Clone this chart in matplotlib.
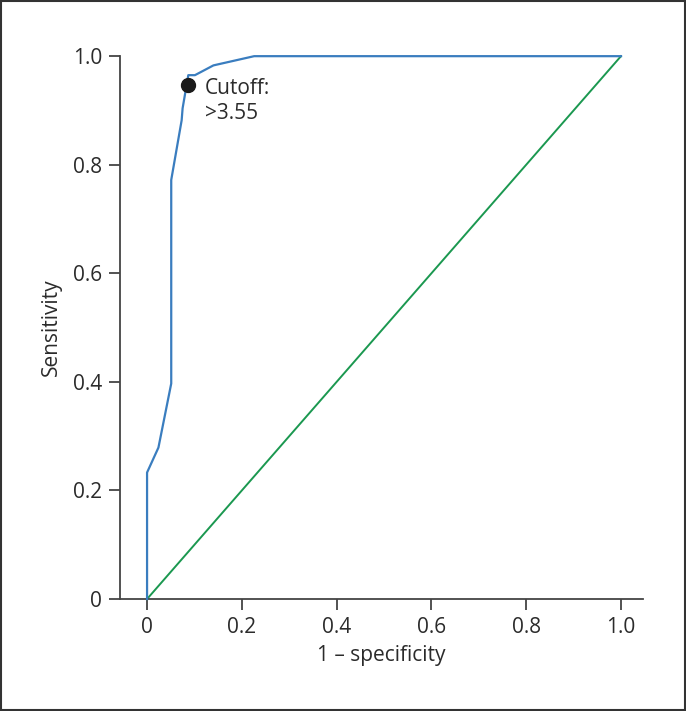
import matplotlib.pyplot as plt
from matplotlib.patches import Rectangle

plt.rcParams['font.family'] = ['Open Sans', 'DejaVu Sans']

# ROC curve
fpr = [0, 0, 0.024, 0.051, 0.051, 0.073, 0.075, 0.087, 0.101, 0.14, 0.226, 1.0]
tpr = [0, 0.233, 0.279, 0.397, 0.772, 0.882, 0.904, 0.965, 0.965, 0.983, 1.0, 1.0]
ref_x = [0, 1]
ref_y = [0, 1]
cutoff_x = 0.087
cutoff_y = 0.947
cutoff_label = 'Cutoff:\n>3.55'

ticks = [0, 0.2, 0.4, 0.6, 0.8, 1.0]
tick_labels = ['0', '0.2', '0.4', '0.6', '0.8', '1.0']

text_col = '#2b2b2b'
axis_col = '#444444'
fs = 15

fig = plt.figure(figsize=(6.86, 7.11), dpi=100)
ax = fig.add_axes([0.175, 0.1575, 0.762, 0.7635])

ax.plot(ref_x, ref_y, color='#1b9850', lw=1.4, clip_on=False, zorder=2)
ax.plot(fpr, tpr, color='#3a7dbf', lw=1.6, clip_on=False, zorder=3)
ax.plot(cutoff_x, cutoff_y, 'o', color='#1a1a1a', ms=10, clip_on=False, zorder=4)
ax.text(0.122, 0.918, cutoff_label, fontsize=fs, color=text_col,
        va='center', ha='left', linespacing=1.25)

ax.set_xlim(-0.057, 1.046)
ax.set_ylim(0, 1)
ax.set_xticks(ticks)
ax.set_xticklabels(tick_labels)
ax.set_yticks(ticks)
ax.set_yticklabels(tick_labels)
ax.tick_params(direction='out', length=8, width=1.3, colors=axis_col,
               labelcolor=text_col, labelsize=fs, pad=5)

for s in ['top', 'right']:
    ax.spines[s].set_visible(False)
for s in ['left', 'bottom']:
    ax.spines[s].set_color(axis_col)
    ax.spines[s].set_linewidth(1.3)

ax.set_xlabel('1 – specificity', fontsize=fs, color=text_col, labelpad=5)
ax.set_ylabel('Sensitivity', fontsize=fs, color=text_col, labelpad=8)

fig.patches.append(Rectangle((0.002, 0.002), 0.996, 0.996, transform=fig.transFigure,
                             fill=False, edgecolor='#333333', lw=1.5))

fig.savefig('out.png', dpi=100)
